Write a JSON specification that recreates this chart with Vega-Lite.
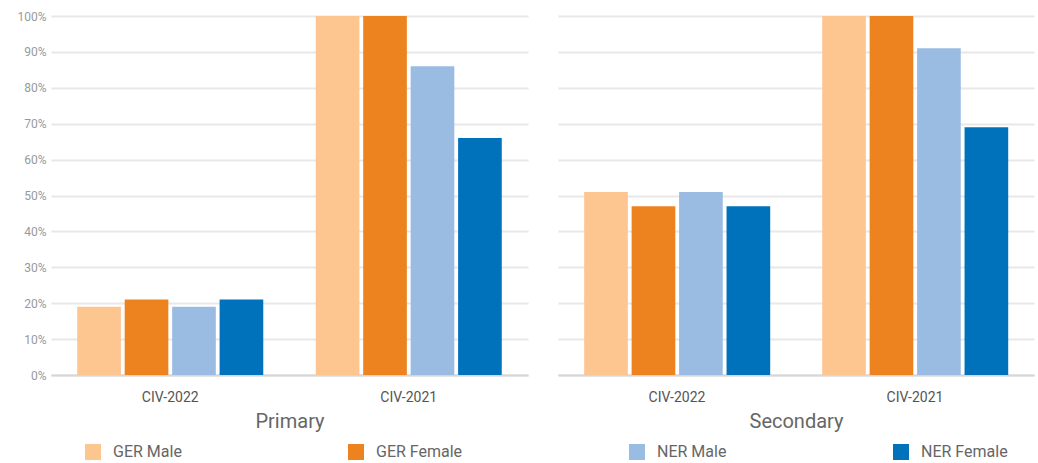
{
  "$schema": "https://vega.github.io/schema/vega-lite/v6.json",
  "padding": {"left": 16, "top": 10, "right": 5, "bottom": 0},
  "data": {
    "values": [
      {"level": "Primary", "country": "CIV-2022", "series": "GER Male", "value": 19},
      {"level": "Primary", "country": "CIV-2022", "series": "GER Female", "value": 21},
      {"level": "Primary", "country": "CIV-2022", "series": "NER Male", "value": 19},
      {"level": "Primary", "country": "CIV-2022", "series": "NER Female", "value": 21},
      {"level": "Primary", "country": "CIV-2021", "series": "GER Male", "value": 100},
      {"level": "Primary", "country": "CIV-2021", "series": "GER Female", "value": 100},
      {"level": "Primary", "country": "CIV-2021", "series": "NER Male", "value": 86},
      {"level": "Primary", "country": "CIV-2021", "series": "NER Female", "value": 66},
      {"level": "Secondary", "country": "CIV-2022", "series": "GER Male", "value": 51},
      {"level": "Secondary", "country": "CIV-2022", "series": "GER Female", "value": 47},
      {"level": "Secondary", "country": "CIV-2022", "series": "NER Male", "value": 51},
      {"level": "Secondary", "country": "CIV-2022", "series": "NER Female", "value": 47},
      {"level": "Secondary", "country": "CIV-2021", "series": "GER Male", "value": 100},
      {"level": "Secondary", "country": "CIV-2021", "series": "GER Female", "value": 100},
      {"level": "Secondary", "country": "CIV-2021", "series": "NER Male", "value": 91},
      {"level": "Secondary", "country": "CIV-2021", "series": "NER Female", "value": 69}
    ]
  },
  "spacing": 30,
  "hconcat": [
    {
      "width": 477,
      "height": 359,
      "transform": [{"filter": "datum.level == 'Primary'"}],
      "mark": {"type": "bar"},
      "encoding": {
        "x": {
          "field": "country",
          "type": "nominal",
          "sort": ["CIV-2022", "CIV-2021"],
          "scale": {"paddingInner": 0.22, "paddingOuter": 0.11},
          "title": "Primary",
          "axis": {"labelAngle": 0}
        },
        "xOffset": {
          "field": "series",
          "sort": ["GER Male", "GER Female", "NER Male", "NER Female"],
          "scale": {"paddingInner": 0.08, "paddingOuter": 0}
        },
        "y": {
          "field": "value",
          "type": "quantitative",
          "scale": {"domain": [0, 100]},
          "title": null,
          "axis": {"values": [0, 10, 20, 30, 40, 50, 60, 70, 80, 90, 100], "labelExpr": "datum.value + '%'"}
        },
        "color": {
          "field": "series",
          "sort": ["GER Male", "GER Female", "NER Male", "NER Female"],
          "scale": {
            "domain": ["GER Male", "GER Female", "NER Male", "NER Female"],
            "range": ["#fdc590", "#ec831f", "#9abbe2", "#0072bc"]
          },
          "title": null
        }
      }
    },
    {
      "width": 476,
      "height": 359,
      "transform": [{"filter": "datum.level == 'Secondary'"}],
      "mark": {"type": "bar"},
      "encoding": {
        "x": {
          "field": "country",
          "type": "nominal",
          "sort": ["CIV-2022", "CIV-2021"],
          "scale": {"paddingInner": 0.22, "paddingOuter": 0.11},
          "title": "Secondary",
          "axis": {"labelAngle": 0}
        },
        "xOffset": {
          "field": "series",
          "sort": ["GER Male", "GER Female", "NER Male", "NER Female"],
          "scale": {"paddingInner": 0.08, "paddingOuter": 0}
        },
        "y": {
          "field": "value",
          "type": "quantitative",
          "scale": {"domain": [0, 100]},
          "title": null,
          "axis": {"values": [0, 10, 20, 30, 40, 50, 60, 70, 80, 90, 100], "labels": false}
        },
        "color": {
          "field": "series",
          "sort": ["GER Male", "GER Female", "NER Male", "NER Female"],
          "scale": {
            "domain": ["GER Male", "GER Female", "NER Male", "NER Female"],
            "range": ["#fdc590", "#ec831f", "#9abbe2", "#0072bc"]
          },
          "title": null
        }
      }
    }
  ],
  "config": {
    "font": "Roboto",
    "view": {"stroke": null},
    "axisY": {
      "domain": false,
      "ticks": false,
      "gridColor": "#e8e8e8",
      "gridWidth": 2,
      "labelColor": "#999999",
      "labelFontSize": 12,
      "labelPadding": 5
    },
    "axisX": {
      "domainColor": "#d6d6d6",
      "domainWidth": 2,
      "ticks": false,
      "grid": false,
      "labelColor": "#555555",
      "labelFontSize": 14,
      "labelPadding": 15,
      "titleColor": "#666666",
      "titleFontSize": 20,
      "titleFontWeight": "normal",
      "titlePadding": 7
    },
    "legend": {
      "orient": "none",
      "legendX": 34,
      "legendY": 428,
      "direction": "horizontal",
      "symbolType": "square",
      "symbolSize": 256,
      "symbolStrokeWidth": 0,
      "labelFontSize": 16,
      "labelColor": "#666666",
      "labelOffset": 12,
      "columnPadding": 166
    }
  }
}
